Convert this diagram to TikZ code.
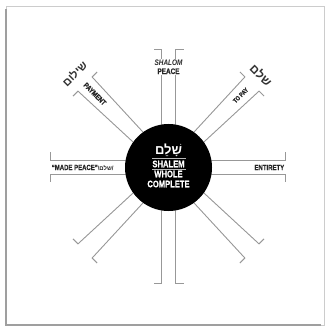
\documentclass[tikz,border=0pt]{standalone}
\usepackage{fontspec}
\setmainfont{Liberation Sans}[FakeStretch=0.8, BoldFeatures={FakeBold=0.6}]
\newfontfamily\hebfont[Script=Hebrew]{Liberation Sans}
\TeXXeTstate=1
\usetikzlibrary{calc}
\begin{document}
\begin{tikzpicture}[x=1pt,y=-1pt,
  armline/.style={draw=gray!65!black!60, line width=0.9pt},
  lbl/.style={font=\bfseries\fontsize{7.5}{8}\selectfont, text=black!85, inner sep=0.6pt},
  heb/.style={font=\hebfont\bfseries\fontsize{11}{11}\selectfont, text=black!80, inner sep=0.5pt},
  intext/.style={text=white, font=\bfseries\fontsize{9.5}{10}\selectfont, inner sep=0pt}]
\useasboundingbox (0,0) rectangle (328,328);
\fill[white] (0,0) rectangle (328,328);
% frame with shadow
\draw[gray!40, line width=0.8pt] (6,6) rectangle (324,325);
\draw[gray!75, line width=1.6pt] (6,9) -- (6,325) -- (321,325);
\coordinate (C) at (168.5,167.5);
% orthogonal arms
\foreach \a/\r in {0/117, 90/116, 180/118, 270/118} {
  \draw[armline] ($(C)+(\a:30)+(\a+90:7)$) -- ($(C)+(\a:\r)+(\a+90:7)$) -- ++(\a+90:8);
  \draw[armline] ($(C)+(\a:30)+(\a-90:7)$) -- ($(C)+(\a:\r)+(\a-90:7)$) -- ++(\a-90:8);
}
% diagonal arms
\foreach \a in {45,135,225,315} {
  \draw[armline] ($(C)+(\a:30)+(\a+90:6.5)$) -- ($(C)+(\a:118)+(\a+90:10)$) -- ++(\a+90:7);
  \draw[armline] ($(C)+(\a:30)+(\a-90:6.5)$) -- ($(C)+(\a:118)+(\a-90:10)$) -- ++(\a-90:7);
}
% centre disc
\node[circle, fill=black, minimum size=87pt, inner sep=0pt] (disc) at (C) {};
\draw[gray!55, line width=0.6pt] (152,158.5) -- (186,158.5) (152,169.5) -- (186,169.5);
\node[intext, font=\hebfont\bfseries\fontsize{13}{13}\selectfont] (h0) at (168.5,150.5) {\beginR שָׁלֵם\endR};
\node[intext] (t1) at (168.5,164) {SHALEM};
\node[intext] (t2) at (168.5,174) {WHOLE};
\node[intext] (t3) at (168.5,184) {COMPLETE};
% labels
\node[lbl, fill=white, align=center, font=\bfseries\itshape\fontsize{8}{9}\selectfont] (peace) at (168.5,67) {SHALOM\\[-0.5pt]\upshape PEACE};
\node[lbl, anchor=east] (ent) at (285,167.5) {ENTIRETY};
\node[lbl, anchor=west] (made) at (51,167.5) {“MADE PEACE”{\hebfont\fontsize{6}{6}\selectfont\textbackslash\beginR שלם\endR/}};
\node[lbl, rotate=-45] (pay) at ($(C)+(225:104)$) {PAYMENT};
\node[lbl, rotate=45, font=\bfseries\fontsize{6.5}{7}\selectfont] (topay) at ($(C)+(315:102)$) {TO PAY};
\node[heb, rotate=45] (hnw) at ($(C)+(225:133)$) {\beginR שילום\endR};
\node[heb, rotate=-45, font=\hebfont\bfseries\fontsize{12}{12}\selectfont] (hne) at ($(C)+(315:131)$) {\beginR שלם\endR};
\end{tikzpicture}
\end{document}
